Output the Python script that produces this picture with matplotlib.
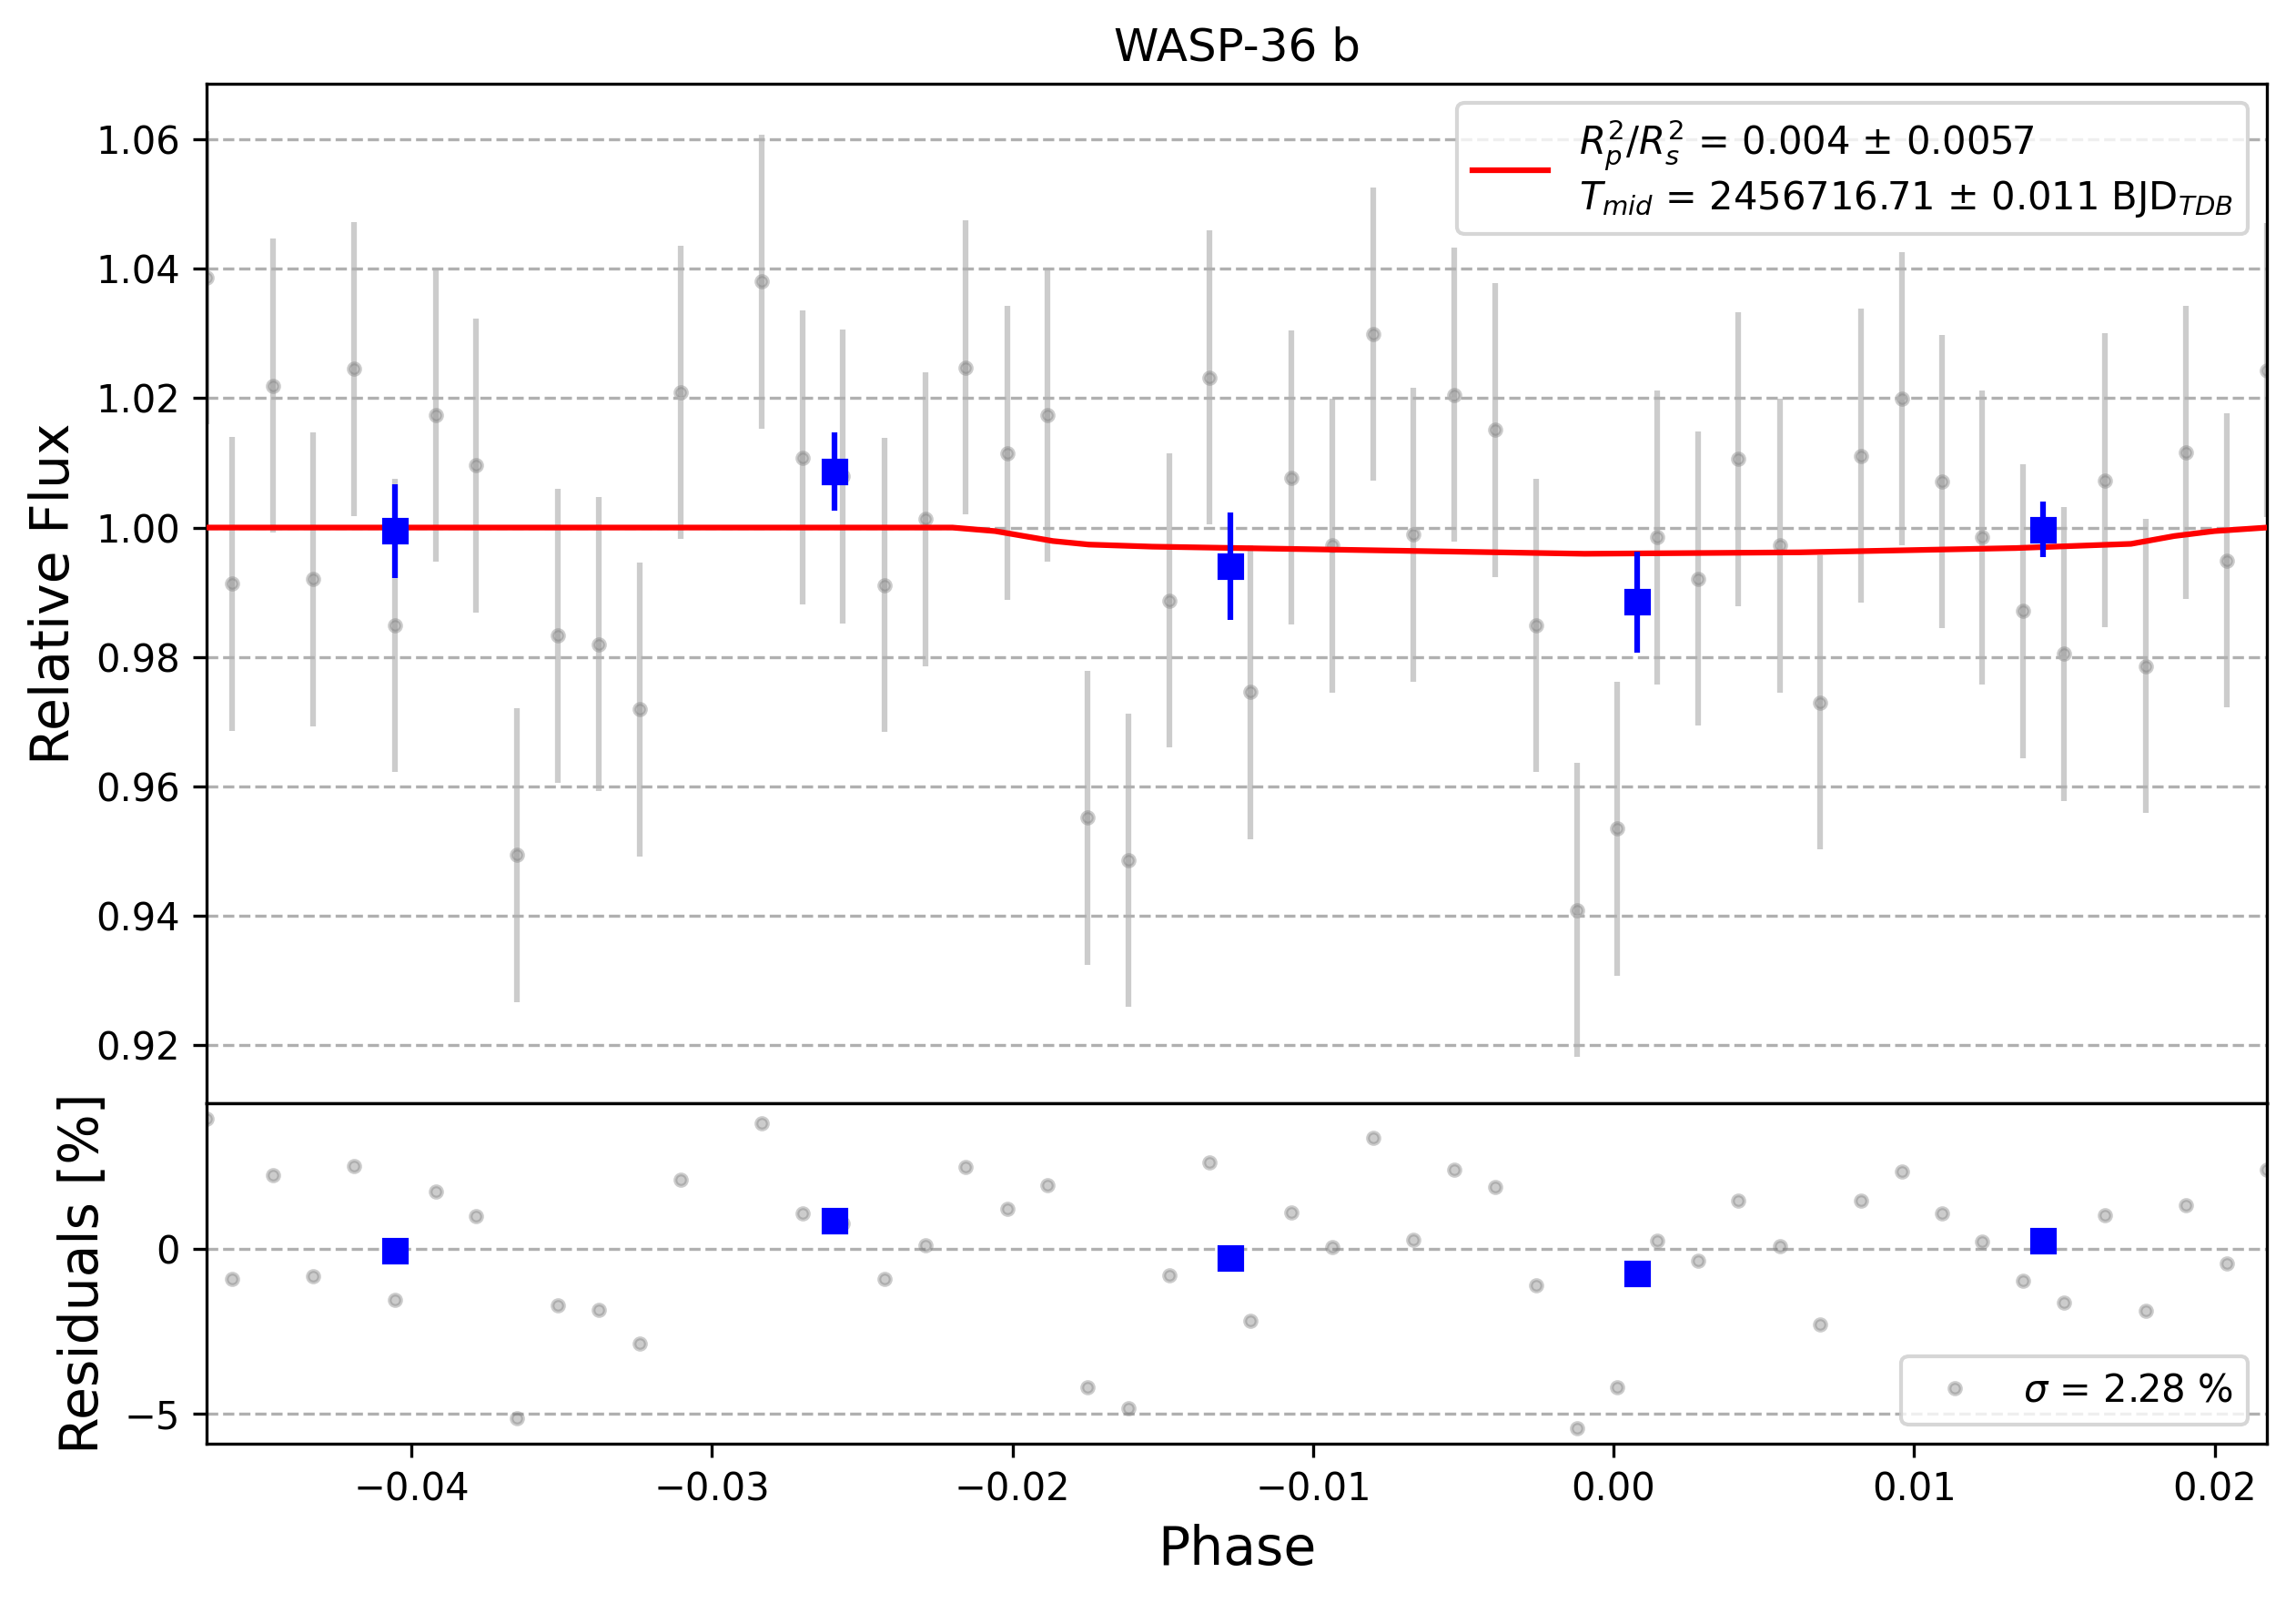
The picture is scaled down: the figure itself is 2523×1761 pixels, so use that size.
import matplotlib
matplotlib.use('Agg')
import matplotlib.pyplot as plt

# phase-folded light curve
phase = [-0.04682, -0.04596, -0.04460, -0.04329, -0.04192, -0.04056, -0.03920, -0.03786,
         -0.03649, -0.03513, -0.03377, -0.03240, -0.03104, -0.02834, -0.02698, -0.02564,
         -0.02427, -0.02291, -0.02155, -0.02018, -0.01884, -0.01750, -0.01614, -0.01478,
         -0.01344, -0.01208, -0.01071, -0.00935, -0.00799, -0.00667, -0.00531, -0.00394,
         -0.00258, -0.00122, 0.00012, 0.00146, 0.00282, 0.00416, 0.00553, 0.00687,
         0.00823, 0.00959, 0.01093, 0.01227, 0.01363, 0.01500, 0.01634, 0.01770,
         0.01904, 0.02040, 0.02174]
flux = [1.0386, 0.9913, 1.0219, 0.9920, 1.0245, 0.9849, 1.0174, 1.0096,
        0.9494, 0.9833, 0.9820, 0.9719, 1.0209, 1.0380, 1.0108, 1.0079,
        0.9911, 1.0013, 1.0247, 1.0115, 1.0174, 0.9552, 0.9486, 0.9887,
        1.0232, 0.9746, 1.0077, 0.9972, 1.0299, 0.9989, 1.0205, 1.0151,
        0.9849, 0.9409, 0.9535, 0.9985, 0.9921, 1.0106, 0.9972, 0.9730,
        1.0111, 1.0199, 1.0071, 0.9985, 0.9871, 0.9805, 1.0073, 0.9786,
        1.0116, 0.9949, 1.0243]
flux_err = 0.0227
residuals = [3.97, -0.90, 2.25, -0.81, 2.53, -1.53, 1.77, 1.00,
             -5.13, -1.70, -1.84, -2.86, 2.11, 3.83, 1.08, 0.80,
             -0.90, 0.13, 2.50, 1.24, 1.94, -4.19, -4.83, -0.78,
             2.65, -2.17, 1.13, 0.07, 3.38, 0.30, 2.43, 1.90,
             -1.09, -5.45, -4.21, 0.27, -0.36, 1.47, 0.10, -2.28,
             1.47, 2.36, 1.08, 0.23, -0.95, -1.63, 1.04, -1.86,
             1.34, -0.42, 2.41]

# transit model
model_phase = [-0.04682, -0.02200, -0.02058, -0.01866, -0.01746, -0.01535, -0.00815,
               -0.00097, 0.00621, 0.01338, 0.01722, 0.01866, 0.01999, 0.02174]
model_flux = [1.0, 1.0, 0.99945, 0.99792, 0.99737, 0.99705, 0.99650,
              0.99595, 0.99617, 0.99683, 0.99748, 0.99869, 0.99945, 1.0]

# binned data
bin_phase = [-0.04054, -0.02593, -0.01276, 0.00078, 0.01429]
bin_flux = [0.99945, 1.00864, 0.99398, 0.98852, 0.99967]
bin_err = [0.0072, 0.0060, 0.0083, 0.0078, 0.0043]
bin_resid = [-0.04, 0.87, -0.26, -0.73, 0.27]

fig, (ax_lc, ax_res) = plt.subplots(2, 1, figsize=(8.41, 5.87), dpi=300,
                                    gridspec_kw={'height_ratios': [3, 1]})
plt.subplots_adjust(left=0.090, right=0.9873, top=0.9479, bottom=0.0994, hspace=0)

ax_lc.set_title('WASP-36 b')
ax_lc.errorbar(phase, flux, yerr=flux_err, fmt='.', color='gray', alpha=0.4, zorder=1)
ax_lc.plot(model_phase, model_flux, 'r', lw=1.5, zorder=3,
           label='$R^{2}_{p}/R^{2}_{s}$ = 0.004 ± 0.0057\n'
                 '$T_{mid}$ = 2456716.71 ± 0.011 BJD$_{TDB}$')
ax_lc.errorbar(bin_phase, bin_flux, yerr=bin_err, fmt='s', color='blue', ms=6, zorder=4)
ax_lc.set_ylabel('Relative Flux', fontsize=14)
ax_lc.set_xlim(min(phase), max(phase))
ax_lc.set_ylim(0.9110, 1.0686)
ax_lc.tick_params(axis='x', bottom=False, labelbottom=False)
ax_lc.grid(True, axis='y', ls='--')
ax_lc.legend(loc='upper right')

ax_res.plot(phase, residuals, '.', color='gray', alpha=0.4,
            label=r'$\sigma$ = 2.28 %')
ax_res.plot(bin_phase, bin_resid, 's', color='blue', ms=6)
ax_res.set_xlim(min(phase), max(phase))
ax_res.set_ylim(-5.916, 4.434)
ax_res.set_ylabel('Residuals [%]', fontsize=14)
ax_res.set_xlabel('Phase', fontsize=14)
ax_res.grid(True, axis='y', ls='--')
ax_res.legend(loc='lower right')

plt.savefig('out.png', dpi=300)
